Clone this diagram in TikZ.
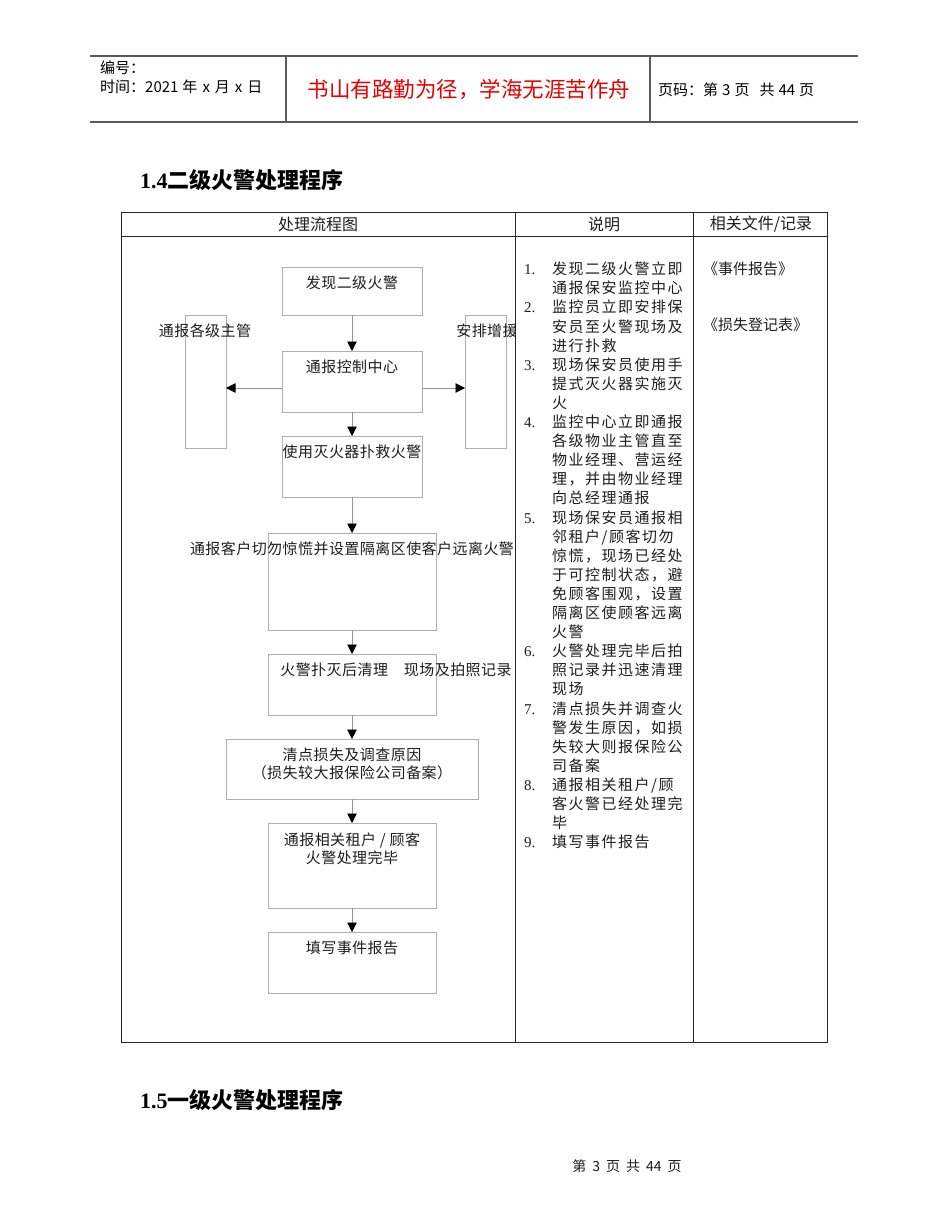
\documentclass[tikz,border=0pt]{standalone}
\usepackage{fontspec}
\setmainfont{Liberation Serif}
\newfontfamily\cjk{Noto Sans CJK SC}
\newfontfamily\cjkd{Noto Sans CJK SC}[LetterSpace=10]
\newfontfamily\cjkf{Noto Sans CJK SC}[LetterSpace=3]
\usetikzlibrary{arrows.meta}
\definecolor{hdrred}{RGB}{230,0,0}
\definecolor{hdrline}{RGB}{90,90,90}
\definecolor{tblline}{RGB}{40,40,40}
\definecolor{boxline}{RGB}{175,175,175}
\definecolor{conline}{RGB}{150,150,150}
\definecolor{txt}{RGB}{30,30,30}
\tikzset{
  hdr/.style={draw=hdrline, line width=1.3pt},
  tbl/.style={draw=tblline, line width=0.9pt},
  fbox/.style={draw=boxline, line width=0.8pt, inner sep=0pt, outer sep=0pt},
  ftext/.style={inner sep=0pt, text=txt, font=\cjkf\fontsize{15}{18}\selectfont, align=center},
  dtext/.style={inner sep=0pt, text=txt, anchor=base west, font=\cjkd\fontsize{15}{18}\selectfont},
  dnum/.style={inner sep=0pt, text=txt, anchor=base west, font=\fontsize{15}{18}\selectfont},
  arr/.style={draw=conline, line width=0.7pt, -{Triangle[width=9.5pt,length=9.5pt,color=black,fill=black]}},
}
\begin{document}
\begin{tikzpicture}[x=1pt,y=-1pt]
\path[fill=white] (0,0) rectangle (950,1230);
\useasboundingbox (0,0) rectangle (950,1230);

% page header
\draw[hdr] (90,56) -- (858,56);
\draw[hdr] (90,122) -- (858,122);
\draw[hdr] (286,56) -- (286,122);
\draw[hdr] (650,56) -- (650,122);
\node[inner sep=0pt, anchor=west, font=\cjk\fontsize{15}{17}\selectfont] (hno) at (100,68) {编号：};
\node[inner sep=0pt, anchor=west, font=\cjk\fontsize{15}{17}\selectfont] (hdate) at (100,87) {时间：2021\hspace{4pt}年\hspace{5pt}x\hspace{5pt}月\hspace{5pt}x\hspace{5pt}日};
\node[inner sep=0pt, text=hdrred, font=\cjk\fontsize{21.5}{24}\selectfont] (hmotto) at (469,90) {书山有路勤为径，学海无涯苦作舟};
\node[inner sep=0pt, anchor=west, font=\cjk\fontsize{15}{17}\selectfont] (hpage) at (658,90) {页码：第\hspace{4pt}3\hspace{4pt}页\hspace{10pt}共\hspace{4pt}44\hspace{4pt}页};

% title
\node[inner sep=0pt, anchor=west, font=\fontsize{22}{24}\selectfont] (title) at (140,180) {\textbf{1.4}{\cjk\bfseries 二级火警处理程序}};

% table
\draw[tbl] (121,212) rectangle (827,1042);
\draw[tbl] (121,236) -- (827,236);
\draw[tbl] (515,212) -- (515,1042);
\draw[tbl] (693,212) -- (693,1042);
\node[inner sep=0pt, text=txt, font=\cjk\fontsize{16}{18}\selectfont] (th1) at (318,224) {处理流程图};
\node[inner sep=0pt, text=txt, font=\cjk\fontsize{16}{18}\selectfont] (th2) at (604,224) {说明};
\node[inner sep=0pt, text=txt, font=\cjk\fontsize{16}{18}\selectfont] (th3) at (761,224) {相关文件/记录};

% flowchart boxes
\node[fbox, minimum width=140pt, minimum height=48pt] (b1) at (352,291) {};
\node[fbox, minimum width=41pt, minimum height=133pt] (L) at (205.5,381.5) {};
\node[fbox, minimum width=41pt, minimum height=133pt] (R) at (485.5,381.5) {};
\node[fbox, minimum width=140pt, minimum height=61pt] (b2) at (352,381.5) {};
\node[fbox, minimum width=140pt, minimum height=61pt] (b3) at (352,466.5) {};
\node[fbox, minimum width=168pt, minimum height=97pt] (b4) at (352,581.5) {};
\node[fbox, minimum width=168pt, minimum height=61pt] (b5) at (352,684.5) {};
\node[fbox, minimum width=252pt, minimum height=60pt] (b6) at (352,769) {};
\node[fbox, minimum width=168pt, minimum height=85pt] (b7) at (352,865.5) {};
\node[fbox, minimum width=168pt, minimum height=61pt] (b8) at (352,962.5) {};

% flowchart texts
\begin{scope}
\clip (121,236) rectangle (515,1042);
\node[ftext] (t1) at (352,283) {发现二级火警};
\node[ftext] (tL) at (205,331) {通报各级主管};
\node[ftext] (tR) at (487,331) {安排增援};
\node[ftext] (t2) at (352,367) {通报控制中心};
\node[ftext] (t3) at (352,452) {使用灭火器扑救火警};
\node[ftext] (t4) at (352,549) {通报客户切勿惊慌并设置隔离区使客户远离火警};
\node[ftext] (t5) at (396,670) {火警扑灭后清理　现场及拍照记录};
\node[ftext] (t6) at (352,764) {清点损失及调查原因\\（损失较大报保险公司备案）};
\node[ftext] (t7) at (352,849) {通报相关租户 / 顾客\\火警处理完毕};
\node[ftext] (t8) at (352,948) {填写事件报告};
\end{scope}

% connectors
\draw[arr] (b1) -- (b2);
\coordinate (lm) at ([yshift=-6.5pt]b2.west);
\coordinate (rm) at ([yshift=-6.5pt]b2.east);
\draw[arr] (lm) -- (lm -| L.east);
\draw[arr] (rm) -- (rm -| R.west);
\draw[arr] (b2) -- (b3);
\draw[arr] (b3) -- (b4);
\draw[arr] (b4) -- (b5);
\draw[arr] (b5) -- (b6);
\draw[arr] (b6) -- (b7);
\draw[arr] (b7) -- (b8);

% description column
\foreach \t [count=\i] in {
发现二级火警立即, 通报保安监控中心,
监控员立即安排保, 安员至火警现场及, 进行扑救,
现场保安员使用手, 提式灭火器实施灭, 火,
监控中心立即通报, 各级物业主管直至, 物业经理、营运经, 理，并由物业经理, 向总经理通报,
现场保安员通报相, 邻租户/顾客切勿, 惊慌，现场已经处, 于可控制状态，避, 免顾客围观，设置, 隔离区使顾客远离, 火警,
火警处理完毕后拍, 照记录并迅速清理, 现场,
清点损失并调查火, 警发生原因，如损, 失较大则报保险公, 司备案,
通报相关租户/顾, 客火警已经处理完, 毕,
填写事件报告}
{
  \node[dtext] (d\i) at (552,{274.7+(\i-1)*19.1}) {\t};
}
\foreach \n/\l in {1/1,2/3,3/6,4/9,5/14,6/21,7/24,8/28,9/31}
{
  \node[dnum] (n\n) at (524,{274.7+(\l-1)*19.1}) {\n.};
}

% related documents
\node[inner sep=0pt, anchor=west, text=txt, font=\cjk\fontsize{15}{18}\selectfont] (r1) at (703,269) {《事件报告》};
\node[inner sep=0pt, anchor=west, text=txt, font=\cjk\fontsize{15}{18}\selectfont] (r2) at (703,325) {《损失登记表》};

% next section and footer
\node[inner sep=0pt, anchor=west, font=\fontsize{22}{24}\selectfont] (title2) at (140,1100) {\textbf{1.5}{\cjk\bfseries 一级火警处理程序}};
\node[inner sep=0pt, text=txt, font=\cjk\fontsize{14}{16}\selectfont] (foot) at (627,1166) {第\hspace{6pt}3\hspace{6pt}页\hspace{6pt}共\hspace{6pt}44\hspace{6pt}页};
\end{tikzpicture}
\end{document}
